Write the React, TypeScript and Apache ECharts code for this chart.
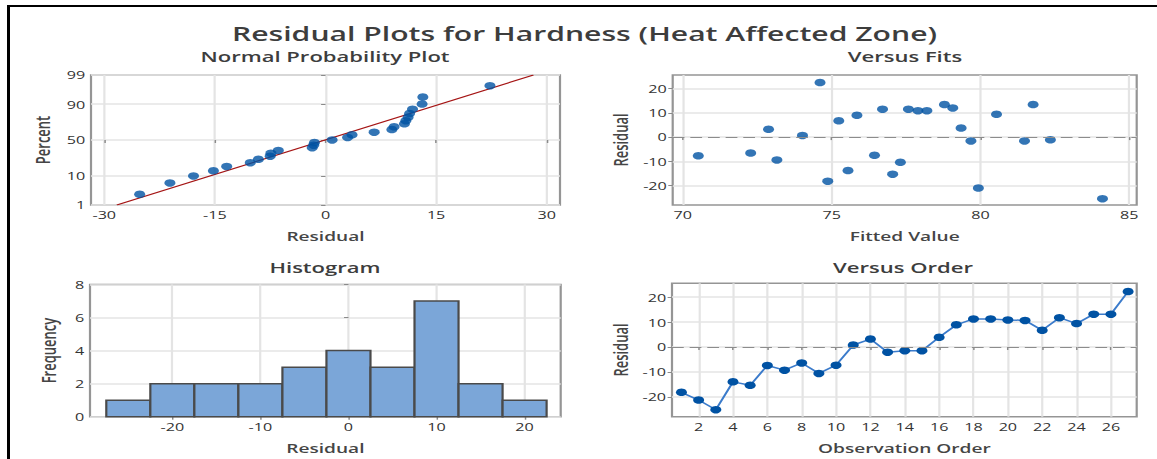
import React, { useEffect, useRef } from "react";
import * as echarts from "echarts";

// ---------- data ----------
const MAIN_TITLE = "Residual Plots for Hardness (Heat Affected Zone)";
const PANEL_TITLES = ["Normal Probability Plot", "Versus Fits", "Histogram", "Versus Order"];

// Normal probability plot: ordered residuals and their plotted percent
const nppResidual = [-25.2, -21.1, -17.9, -15.2, -13.4, -10.2, -9.1, -7.5, -7.4, -6.4, -1.8, -1.6, -1.5, 0.9, 3.0, 3.6, 6.6, 9.0, 9.3, 10.7, 10.9, 11.2, 11.4, 11.8, 13.1, 13.2, 22.3];
const nppPercent = [2.6, 6.2, 9.9, 13.5, 17.2, 20.8, 24.5, 28.1, 31.8, 35.4, 39.1, 42.7, 46.4, 50.0, 53.6, 57.3, 61.0, 64.6, 68.2, 71.9, 75.5, 79.2, 82.8, 86.5, 90.1, 93.8, 97.4];
const nppFitResidual = [-28.3, 28.2];
const nppFitPercent = [1, 99];
const nppPercentTicks = [1, 10, 50, 90, 99];
const nppResidualTicks = [-30, -15, 0, 15, 30];

// Versus fits
const fittedValue = [70.52, 72.28, 72.88, 73.16, 74.02, 74.61, 74.87, 75.24, 75.55, 75.85, 76.44, 76.71, 77.05, 77.31, 77.58, 77.9, 78.2, 78.79, 79.07, 79.35, 79.68, 79.93, 80.54, 81.48, 81.77, 82.35, 84.1];
const fitsResidual = [-7.7, -6.6, 3.2, -9.4, 0.7, 22.5, -18.2, 6.7, -13.8, 9.0, -7.5, 11.5, -15.3, -10.4, 11.5, 10.9, 10.9, 13.4, 12.0, 3.7, -1.6, -21.0, 9.4, -1.6, 13.4, -1.1, -25.4];
const fittedTicks = [70, 75, 80, 85];
const residualTicks = [-20, -10, 0, 10, 20];

// Histogram
const binCenters = [-25, -20, -15, -10, -5, 0, 5, 10, 15, 20];
const binCounts = [1, 2, 2, 2, 3, 4, 3, 7, 2, 1];
const binWidth = 5;
const histResidualTicks = [-20, -10, 0, 10, 20];

// Versus order
const observation = [1, 2, 3, 4, 5, 6, 7, 8, 9, 10, 11, 12, 13, 14, 15, 16, 17, 18, 19, 20, 21, 22, 23, 24, 25, 26, 27];
const orderResidual = [-18.2, -21.3, -25.2, -14.0, -15.4, -7.4, -9.3, -6.4, -10.6, -7.3, 0.8, 3.2, -2.1, -1.5, -1.5, 3.9, 8.9, 11.3, 11.3, 10.9, 10.7, 6.7, 11.8, 9.4, 13.2, 13.2, 22.3];
const orderTicks = [2, 4, 6, 8, 10, 12, 14, 16, 18, 20, 22, 24, 26];

// ---------- helpers ----------
// inverse standard normal CDF (probability-scale transform)
function probit(p: number): number {
  const a = [-39.69683028665376, 220.9460984245205, -275.9285104469687, 138.357751867269, -30.66479806614716, 2.506628277459239];
  const b = [-54.47609879822406, 161.5858368580409, -155.6989798598866, 66.80131188771972, -13.28068155288572];
  const c = [-0.007784894002430293, -0.3223964580411365, -2.400758277161838, -2.549732539343734, 4.374664141464968, 2.938163982698783];
  const d = [0.007784695709041462, 0.3224671290700398, 2.445134137142996, 3.754408661907416];
  const pl = 0.02425;
  if (p < pl) {
    const q = Math.sqrt(-2 * Math.log(p));
    return (((((c[0] * q + c[1]) * q + c[2]) * q + c[3]) * q + c[4]) * q + c[5]) / ((((d[0] * q + d[1]) * q + d[2]) * q + d[3]) * q + 1);
  }
  if (p <= 1 - pl) {
    const q = p - 0.5;
    const r = q * q;
    return ((((((a[0] * r + a[1]) * r + a[2]) * r + a[3]) * r + a[4]) * r + a[5]) * q) / (((((b[0] * r + b[1]) * r + b[2]) * r + b[3]) * r + b[4]) * r + 1);
  }
  return -probit(1 - p);
}

const S = 1.47; // horizontal stretch of the reference
const W = 1157 / S;
const px = (x: number) => x / S;
const FONT = '"Open Sans", "Noto Sans", sans-serif';
const DOT = "#0052a3";

export default function App() {
  const ref = useRef<HTMLDivElement>(null);

  useEffect(() => {
    if (!ref.current) return;
    const chart = echarts.init(ref.current, null, { renderer: "svg" });

    const zTicks = nppPercentTicks.map((p) => probit(p / 100));
    const zMin = probit(0.01);
    const zMax = probit(0.99);

    const gridCommon = {
      show: true,
      borderColor: "#959595",
      borderWidth: 1.5,
      backgroundColor: "#ffffff",
      containLabel: false,
      outerBoundsMode: "none",
    };

    const axisCommon = (extra: any) => ({
      type: "value",
      axisLine: { show: false },
      axisTick: { show: true, length: 3, lineStyle: { color: "#8a8a8a", width: 1 } },
      splitLine: { show: true, lineStyle: { color: "#e4e4e4", width: 1.5 } },
      nameLocation: "middle",
      nameMoveOverlap: false,
      nameTextStyle: { fontFamily: FONT, fontSize: 13, fontWeight: 600, color: "#454545" },
      ...extra,
      axisLabel: { color: "#333", fontFamily: FONT, fontSize: 11, margin: 4, ...(extra.axisLabel || {}) },
    });

    const zeroLine = {
      silent: true,
      symbol: ["none", "none"],
      label: { show: false },
      lineStyle: { color: "#8c8c8c", type: [8, 4], width: 1.2 },
      emphasis: { disabled: true },
      data: [{ yAxis: 0 }],
    };

    const titleText = (text: string, x: number, y: number, size: number) => ({
      type: "text",
      x: px(x),
      y,
      silent: true,
      style: {
        text,
        fontFamily: FONT,
        fontSize: size,
        fontWeight: 600,
        fill: "#3d3d3d",
        align: "center",
        verticalAlign: "middle",
        textAlign: "center",
        textVerticalAlign: "middle",
      },
    });

    chart.setOption({
      animation: false,
      backgroundColor: "#ffffff",
      graphic: [
        titleText(MAIN_TITLE, 584.5, 33, 20.5),
        titleText(PANEL_TITLES[0], 325, 56, 15),
        titleText(PANEL_TITLES[1], 905, 56, 15),
        titleText(PANEL_TITLES[2], 325, 267, 15),
        titleText(PANEL_TITLES[3], 903, 267, 15),
      ],
      grid: [
        { ...gridCommon, left: px(91), top: 75, width: px(469), height: 130 },
        { ...gridCommon, left: px(672.7), top: 75, width: px(464), height: 130 },
        { ...gridCommon, left: px(90), top: 284.5, width: px(470.7), height: 132.2 },
        { ...gridCommon, left: px(672), top: 283.3, width: px(464.7), height: 133.4 },
      ],
      xAxis: [
        axisCommon({
          gridIndex: 0, min: -31.8, max: 31.8, name: "Residual", nameGap: 25,
          axisTick: { show: true, length: 3, customValues: nppResidualTicks, lineStyle: { color: "#8a8a8a" } },
          axisLabel: { customValues: nppResidualTicks },
        }),
        axisCommon({
          gridIndex: 1, min: 69.66, max: 85.25, name: "Fitted Value", nameGap: 25,
          axisTick: { show: true, length: 3, customValues: fittedTicks, lineStyle: { color: "#8a8a8a" } },
          axisLabel: { customValues: fittedTicks },
        }),
        axisCommon({
          gridIndex: 2, min: -29.35, max: 24.1, name: "Residual", nameGap: 25,
          axisTick: { show: true, length: 3, customValues: histResidualTicks, lineStyle: { color: "#8a8a8a" } },
          axisLabel: { customValues: histResidualTicks },
        }),
        axisCommon({
          gridIndex: 3, min: 0.45, max: 27.5, name: "Observation Order", nameGap: 25,
          axisTick: { show: true, length: 3, customValues: orderTicks, lineStyle: { color: "#8a8a8a" } },
          axisLabel: { customValues: orderTicks },
        }),
      ],
      yAxis: [
        axisCommon({
          gridIndex: 0, min: zMin, max: zMax, name: "Percent", nameGap: 26,
          axisTick: { show: true, length: 3, customValues: zTicks, lineStyle: { color: "#8a8a8a" } },
          axisLabel: {
            customValues: zTicks,
            formatter: (v: number) => {
              let best = 0;
              zTicks.forEach((z, i) => {
                if (Math.abs(z - v) < Math.abs(zTicks[best] - v)) best = i;
              });
              return String(nppPercentTicks[best]);
            },
          },
        }),
        axisCommon({
          gridIndex: 1, min: -28, max: 25.6, name: "Residual", nameGap: 28.5,
          axisTick: { show: true, length: 3, customValues: residualTicks, lineStyle: { color: "#8a8a8a" } },
          axisLabel: { customValues: residualTicks },
        }),
        axisCommon({
          gridIndex: 2, min: 0, max: 8, interval: 2, name: "Frequency", nameGap: 21.5,
        }),
        axisCommon({
          gridIndex: 3, min: -28, max: 25.6, name: "Residual", nameGap: 28.5,
          axisTick: { show: true, length: 3, customValues: residualTicks, lineStyle: { color: "#8a8a8a" } },
          axisLabel: { customValues: residualTicks },
        }),
      ],
      series: [
        {
          type: "line",
          xAxisIndex: 0,
          yAxisIndex: 0,
          data: nppFitResidual.map((r, i) => [r, probit(nppFitPercent[i] / 100)]),
          showSymbol: false,
          symbol: "none",
          silent: true,
          lineStyle: { color: "#a51515", width: 1.2 },
          z: 2,
        },
        {
          type: "scatter",
          xAxisIndex: 0,
          yAxisIndex: 0,
          data: nppResidual.map((r, i) => [r, probit(nppPercent[i] / 100)]),
          symbol: "circle",
          symbolSize: 7.5,
          itemStyle: { color: DOT },
          z: 3,
        },
        {
          type: "scatter",
          xAxisIndex: 1,
          yAxisIndex: 1,
          data: fittedValue.map((f, i) => [f, fitsResidual[i]]),
          symbol: "circle",
          symbolSize: 7.5,
          itemStyle: { color: DOT },
          markLine: zeroLine,
          z: 3,
        },
        {
          type: "custom",
          xAxisIndex: 2,
          yAxisIndex: 2,
          coordinateSystem: "cartesian2d",
          data: binCenters.map((c, i) => [c, binCounts[i]]),
          encode: { x: 0, y: 1 },
          renderItem: (params: any, api: any) => {
            const c = api.value(0);
            const n = api.value(1);
            const p0 = api.coord([c - binWidth / 2, n]);
            const p1 = api.coord([c + binWidth / 2, 0]);
            return {
              type: "rect",
              shape: { x: p0[0], y: p0[1], width: p1[0] - p0[0], height: p1[1] - p0[1] },
              style: { fill: "#7ba6d8", stroke: "#4a4a4a", lineWidth: 1.5 },
            };
          },
          z: 3,
        },
        {
          type: "line",
          xAxisIndex: 3,
          yAxisIndex: 3,
          data: observation.map((o, i) => [o, orderResidual[i]]),
          symbol: "circle",
          showSymbol: true,
          symbolSize: 7.5,
          itemStyle: { color: DOT },
          lineStyle: { color: "#3b7bcb", width: 1.5 },
          markLine: zeroLine,
          z: 3,
        },
      ],
    });

    return () => chart.dispose();
  }, []);

  return (
    <>
      <div
        ref={ref}
        style={{
          position: "fixed",
          left: 0,
          top: 0,
          width: W,
          height: 459,
          transform: `scaleX(${S})`,
          transformOrigin: "0 0",
        }}
      />
      <div
        style={{
          position: "fixed",
          left: 7,
          top: 5,
          width: 1150,
          height: 454,
          borderLeft: "3px solid #000",
          borderTop: "2.5px solid #000",
          boxSizing: "border-box",
          pointerEvents: "none",
        }}
      />
    </>
  );
}
